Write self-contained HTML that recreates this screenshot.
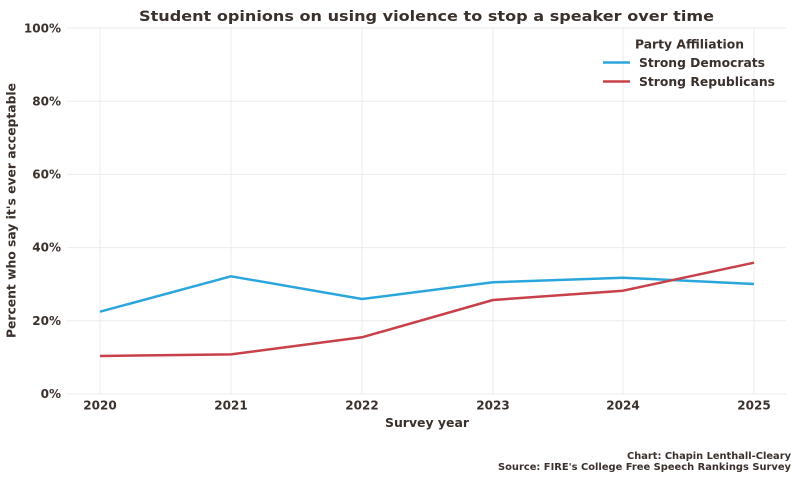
<!DOCTYPE html>
<html><head><meta charset="utf-8"><style>
html,body{margin:0;padding:0;background:#fff;}
svg{display:block;}
text{font-family:"DejaVu Sans","Liberation Sans",sans-serif;font-weight:bold;fill:#3a302c;}
</style></head><body>
<svg width="800" height="480" viewBox="0 0 800 480" xmlns="http://www.w3.org/2000/svg">
<rect width="800" height="480" fill="#fff"/>
<g stroke="#ebebeb" stroke-width="1">
<line x1="67" y1="28" x2="786" y2="28"/>
<line x1="67" y1="101.2" x2="786" y2="101.2"/>
<line x1="67" y1="174.4" x2="786" y2="174.4"/>
<line x1="67" y1="247.6" x2="786" y2="247.6"/>
<line x1="67" y1="320.8" x2="786" y2="320.8"/>
<line x1="67" y1="394" x2="786" y2="394"/>
<line x1="100" y1="28" x2="100" y2="394"/>
<line x1="231" y1="28" x2="231" y2="394"/>
<line x1="362" y1="28" x2="362" y2="394"/>
<line x1="493" y1="28" x2="493" y2="394"/>
<line x1="623" y1="28" x2="623" y2="394"/>
<line x1="754" y1="28" x2="754" y2="394"/>
</g>
<text x="426.5" y="21" font-size="14.5" text-anchor="middle" textLength="575" lengthAdjust="spacingAndGlyphs">Student opinions on using violence to stop a speaker over time</text>
<g font-size="12" text-anchor="end">
<text x="61" y="32.5">100%</text>
<text x="61" y="105.5">80%</text>
<text x="61" y="178.5">60%</text>
<text x="61" y="251.5">40%</text>
<text x="61" y="325">20%</text>
<text x="61" y="398">0%</text>
</g>
<g font-size="12" text-anchor="middle">
<text x="100" y="409.5">2020</text>
<text x="231" y="409.5">2021</text>
<text x="362" y="409.5">2022</text>
<text x="493" y="409.5">2023</text>
<text x="623" y="409.5">2024</text>
<text x="754" y="409.5">2025</text>
</g>
<text x="427" y="427" font-size="12" text-anchor="middle" textLength="84" lengthAdjust="spacingAndGlyphs">Survey year</text>
<text transform="translate(15.5,210.5) rotate(-90)" font-size="12" text-anchor="middle" textLength="255" lengthAdjust="spacingAndGlyphs">Percent who say it's ever acceptable</text>
<polyline fill="none" stroke="#2ba6dc" stroke-width="2.5" stroke-linejoin="round" points="100,311.7 231,276.3 362,299 493,282.3 623,277.7 754,284"/>
<polyline fill="none" stroke="#c8404a" stroke-width="2.5" stroke-linejoin="round" points="100,356 231,354.4 362,337.3 493,300 623,290.7 754,262.7"/>
<text x="689.5" y="48.5" font-size="12" text-anchor="middle" textLength="109" lengthAdjust="spacingAndGlyphs">Party Affiliation</text>
<line x1="603" y1="62.5" x2="630" y2="62.5" stroke="#2ba6dc" stroke-width="2.5"/>
<line x1="603" y1="81.5" x2="630" y2="81.5" stroke="#c8404a" stroke-width="2.5"/>
<text x="639" y="67" font-size="12" textLength="126" lengthAdjust="spacingAndGlyphs">Strong Democrats</text>
<text x="639" y="86" font-size="12" textLength="136" lengthAdjust="spacingAndGlyphs">Strong Republicans</text>
<g font-size="9.5" text-anchor="end">
<text x="791" y="459" textLength="164" lengthAdjust="spacingAndGlyphs">Chart: Chapin Lenthall-Cleary</text>
<text x="791" y="470" textLength="293" lengthAdjust="spacingAndGlyphs">Source: FIRE's College Free Speech Rankings Survey</text>
</g>
</svg>
</body></html>
